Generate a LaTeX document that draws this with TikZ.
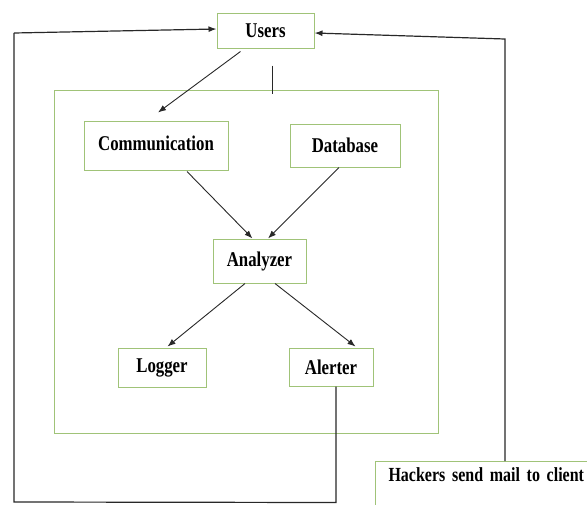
\documentclass[tikz,border=0pt]{standalone}
\usepackage{fontspec}
\setmainfont{Liberation Serif}[FakeStretch=0.8]
\usetikzlibrary{arrows.meta,calc}
\definecolor{boxgreen}{RGB}{160,195,120}
\definecolor{linegray}{RGB}{40,40,40}
\tikzset{
  gbox/.style={draw=boxgreen, line width=1pt, fill=white, inner sep=0pt,
    font=\fontsize{21}{24}\selectfont\bfseries},
  conn/.style={draw=linegray, line width=0.9pt},
  arr/.style={conn, -{Latex[length=8pt,width=6pt]}}
}
\begin{document}
\begin{tikzpicture}[x=1pt,y=-1pt]
\useasboundingbox (0,0) rectangle (587,504);
\clip (0,0) rectangle (587,504);
% outer system box
\node[gbox, minimum width=384pt, minimum height=343pt] (sys) at (246,261.5) {};
\node[gbox, minimum width=97pt, minimum height=35pt] (users) at (265.5,30.5) {Users};
\node[gbox, minimum width=144pt, minimum height=49pt] (comm) at (156,145.5) {\raisebox{4pt}{Communication}};
\node[gbox, minimum width=110pt, minimum height=43pt] (db) at (345,145.5) {Database};
\node[gbox, minimum width=93pt, minimum height=44pt] (ana) at (259.5,261) {Analyzer};
\node[gbox, minimum width=88pt, minimum height=39pt] (log) at (162,367.5) {Logger};
\node[gbox, minimum width=84pt, minimum height=38pt] (alr) at (331,367) {Alerter};
\node[gbox, anchor=north west, inner xsep=13pt, inner ysep=6pt, text depth=40pt,
      text width=240pt, align=left, font=\fontsize{20}{24}\selectfont\bfseries] (hack) at (375,461) {Hackers send mail to client};
% coordinates for the feedback loops
\coordinate (cL) at (14,33);
\coordinate (cB) at (14,502);
\coordinate (cA) at ($(alr.south)+(5,116)$);
\coordinate (cR) at ($(hack.north west)+(130,-422)$);
\coordinate (tickTop) at ($(sys.north)+(26,-24)$);
% connectors
\draw[arr] ([xshift=-25pt,yshift=-3pt]users.south) -- ([xshift=2pt,yshift=8pt]comm.north);
\draw[conn] (tickTop) -- ([xshift=26pt,yshift=-4pt]sys.north);
\draw[arr] ([xshift=31pt,yshift=-1pt]comm.south) -- ([xshift=-7pt]ana.north);
\draw[arr] ([xshift=-6pt]db.south) -- ([xshift=8.5pt]ana.north);
\draw[arr] ([xshift=-14.5pt]ana.south) -- ([xshift=-39pt,yshift=1pt]log.north east);
\draw[arr] ([xshift=15.5pt]ana.south) -- ([xshift=-18pt,yshift=1pt]alr.north east);
\draw[conn, line width=1.2pt] ([xshift=5pt]alr.south) -- (cA) -- (cB) -- (cL);
\draw[arr, line width=1.2pt] (cL) -- ([yshift=1.5pt]users.west);
\draw[arr, line width=1.2pt] ([xshift=130pt]hack.north west) -- (cR) -- ([yshift=-2.5pt]users.east);
\end{tikzpicture}
\end{document}
